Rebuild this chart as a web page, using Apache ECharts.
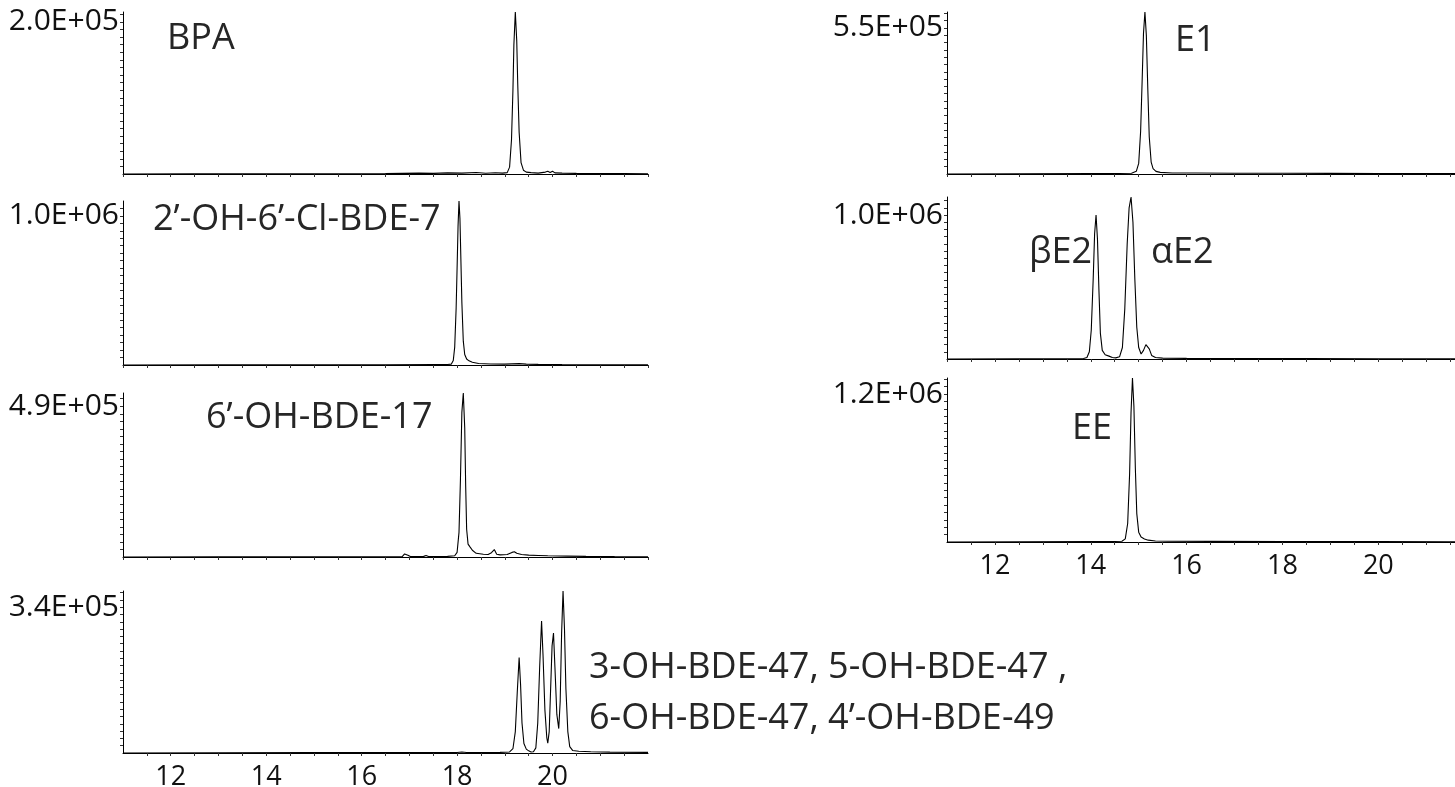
<!DOCTYPE html>
<html>
<head>
<meta charset="utf-8">
<script src="https://cdn.jsdelivr.net/npm/echarts@6/dist/echarts.min.js"></script>
<style>
html,body{margin:0;padding:0;background:#fff;}
#chart{width:1455px;height:787px;}
</style>
</head>
<body>
<div id="chart"></div>
<script>
// ---- data (retention time in min, intensity) ----
const bpaTrace = [[11,0],[12.5,200],[14,300],[15.5,300],[16.5,500],[17.2,1200],[17.5,800],[17.8,1500],[18.1,1200],[18.4,1900],[18.6,1000],[18.8,1600],[18.95,1200],[19.05,1800],[19.1,9000],[19.14,45000],[19.17,110000],[19.19,170000],[19.22,213000],[19.25,175000],[19.27,120000],[19.3,55000],[19.34,15000],[19.39,5000],[19.45,2500],[19.55,1800],[19.7,1200],[19.85,2500],[19.9,3500],[19.95,2000],[20.0,3500],[20.05,1500],[20.2,1200],[20.5,800],[21,600],[21.5,500],[22,400]];
const bde7Trace = [[11,0],[13,1000],[15,1500],[16.5,2000],[17.5,2500],[17.8,3000],[17.88,6000],[17.92,30000],[17.95,120000],[17.98,380000],[18.0,650000],[18.02,930000],[18.04,1100000],[18.06,980000],[18.08,700000],[18.1,420000],[18.13,160000],[18.16,70000],[18.2,40000],[18.25,28000],[18.32,18000],[18.45,10000],[18.7,7000],[19.0,6000],[19.3,9000],[19.45,6000],[19.7,4000],[20.2,3000],[21,2000],[22,1500]];
const bde17Trace = [[11,0],[13,500],[15,800],[16.5,1000],[16.85,1500],[16.9,10000],[16.93,16000],[16.97,6000],[17.02,1500],[17.3,2000],[17.35,5000],[17.4,1500],[17.8,2000],[17.95,4000],[18.0,15000],[18.04,80000],[18.07,250000],[18.1,470000],[18.13,533000],[18.16,420000],[18.18,230000],[18.2,90000],[18.23,42000],[18.27,33000],[18.32,22000],[18.4,12000],[18.55,9000],[18.65,8000],[18.72,14000],[18.78,24000],[18.83,9000],[18.9,7000],[19.05,8000],[19.15,15000],[19.2,17000],[19.25,12000],[19.35,8000],[19.5,6000],[19.7,5000],[19.9,4000],[20.3,3000],[20.7,2000],[21.3,1500],[22,1000]];
const bde47Trace = [[11,0],[13,500],[15,800],[17,1000],[18.0,1200],[18.1,2500],[18.2,1000],[18.9,1500],[19.1,2500],[19.17,10000],[19.22,50000],[19.26,140000],[19.3,223000],[19.33,160000],[19.36,70000],[19.4,22000],[19.45,9000],[19.5,5000],[19.55,2500],[19.6,3000],[19.65,12000],[19.69,70000],[19.73,200000],[19.77,308000],[19.8,230000],[19.84,100000],[19.88,35000],[19.9,23000],[19.93,50000],[19.96,150000],[19.99,250000],[20.02,280000],[20.05,200000],[20.09,90000],[20.13,57000],[20.16,120000],[20.19,280000],[20.22,378000],[20.25,290000],[20.28,150000],[20.32,50000],[20.36,15000],[20.42,6000],[20.55,4000],[20.8,3000],[21.2,2000],[22,1500]];
const e1Trace = [[11,0],[12.5,800],[14,1500],[14.6,2000],[14.85,3000],[14.95,10000],[15.0,40000],[15.04,160000],[15.07,340000],[15.1,530000],[15.13,610000],[15.16,520000],[15.19,320000],[15.22,140000],[15.26,45000],[15.3,20000],[15.36,10000],[15.45,6000],[15.7,4000],[16.2,3500],[17,3000],[18,3000],[19,2500],[20,2000],[21.6,1500]];
const e2Trace = [[11,0],[12.5,1000],[13.5,2000],[13.85,3000],[13.92,10000],[13.97,50000],[14.01,200000],[14.05,550000],[14.08,870000],[14.11,1000000],[14.14,830000],[14.17,480000],[14.2,180000],[14.24,60000],[14.3,30000],[14.38,20000],[14.45,10000],[14.52,8000],[14.6,15000],[14.66,80000],[14.71,350000],[14.76,800000],[14.8,1050000],[14.84,1125000],[14.88,950000],[14.92,550000],[14.96,220000],[15.0,80000],[15.05,35000],[15.1,60000],[15.15,100000],[15.18,110000],[15.22,70000],[15.27,25000],[15.35,10000],[15.5,6000],[16,4000],[17,3000],[18.5,2500],[20,2000],[21.6,1500]];
const eeTrace = [[11,0],[12.5,1500],[14,3000],[14.5,4000],[14.65,6000],[14.72,25000],[14.77,150000],[14.81,550000],[14.84,1050000],[14.87,1330000],[14.9,1100000],[14.93,600000],[14.96,230000],[15.0,80000],[15.05,40000],[15.12,25000],[15.2,15000],[15.35,8000],[15.6,6000],[16.5,5000],[18,4000],[20,3000],[21.6,2500]];

const yLabelValues = [2.0e5, 1.0e6, 4.9e5, 3.4e5, 5.5e5, 1.0e6, 1.2e6];
const yLabelTexts = ['2.0E+05', '1.0E+06', '4.9E+05', '3.4E+05', '5.5E+05', '1.0E+06', '1.2E+06'];
const xTickLabels = [12, 14, 16, 18, 20];
const annotations = [
  {text: 'BPA', x: 167, y: 38},
  {text: '2’-OH-6’-Cl-BDE-7', x: 153, y: 219},
  {text: '6’-OH-BDE-17', x: 206, y: 417},
  {text: '3-OH-BDE-47, 5-OH-BDE-47 ,', x: 589, y: 667},
  {text: '6-OH-BDE-47, 4’-OH-BDE-49', x: 589, y: 718},
  {text: 'E1', x: 1175, y: 40},
  {text: 'βE2', x: 1029, y: 252},
  {text: 'αE2', x: 1151, y: 252},
  {text: 'EE', x: 1072, y: 428}
];

// ---- layout ----
const traces = [bpaTrace, bde7Trace, bde17Trace, bde47Trace, e1Trace, e2Trace, eeTrace];
const panels = [
  {left: 123, width: 525, top: 12, height: 162, xmax: 22, showX: false},
  {left: 123, width: 525, top: 201, height: 164, xmax: 22, showX: false},
  {left: 123, width: 525, top: 393, height: 164, xmax: 22, showX: false},
  {left: 123, width: 525, top: 591, height: 162, xmax: 22, showX: true},
  {left: 947, width: 508, top: 12, height: 162, xmax: 21.6, showX: false},
  {left: 947, width: 508, top: 197, height: 162, xmax: 21.6, showX: false},
  {left: 947, width: 508, top: 378, height: 164, xmax: 21.6, showX: true}
];
const FONT = '"Open Sans", "Noto Sans", sans-serif';
const axisLineStyle = {color: '#000', width: 1};

const option = {
  backgroundColor: '#fff',
  animation: false,
  grid: panels.map(p => ({left: p.left, top: p.top, width: p.width, height: p.height, containLabel: false, outerBoundsMode: 'none'})),
  xAxis: panels.map((p, i) => ({
    type: 'value', gridIndex: i, min: 11, max: p.xmax, interval: 0.5,
    axisLine: {show: true, onZero: false, lineStyle: axisLineStyle},
    axisTick: {show: true, length: 3, lineStyle: {color: '#333', width: 1}},
    splitLine: {show: false},
    axisLabel: {
      show: p.showX, margin: 11, fontSize: 27, fontFamily: FONT, color: '#111',
      showMinLabel: false, showMaxLabel: false,
      formatter: v => (xTickLabels.some(t => Math.abs(t - v) < 1e-6) ? String(Math.round(v)) : '')
    }
  })),
  yAxis: panels.map((p, i) => ({
    type: 'value', gridIndex: i, min: 0, max: 'dataMax', interval: yLabelValues[i] / 20,
    axisLine: {show: true, lineStyle: axisLineStyle},
    axisTick: {show: true, length: 3, lineStyle: {color: '#333', width: 1}},
    splitLine: {show: false},
    axisLabel: {
      show: true, margin: 4, fontSize: 30, fontFamily: FONT, color: '#111',
      showMinLabel: false, showMaxLabel: false,
      formatter: v => (Math.abs(v - yLabelValues[i]) < yLabelValues[i] / 100 ? yLabelTexts[i] : '')
    }
  })),
  series: traces.map((d, i) => ({
    type: 'line', xAxisIndex: i, yAxisIndex: i, data: d,
    showSymbol: false, smooth: false,
    lineStyle: {color: '#000', width: 1.1},
    silent: true
  })),
  graphic: annotations.map(a => ({
    type: 'text', left: a.x, top: a.y - 17,
    style: {text: a.text, font: '36px ' + FONT, fill: '#262626'}
  }))
};

const chart = echarts.init(document.getElementById('chart'), null, {renderer: 'canvas'});
chart.setOption(option);
</script>
</body>
</html>
